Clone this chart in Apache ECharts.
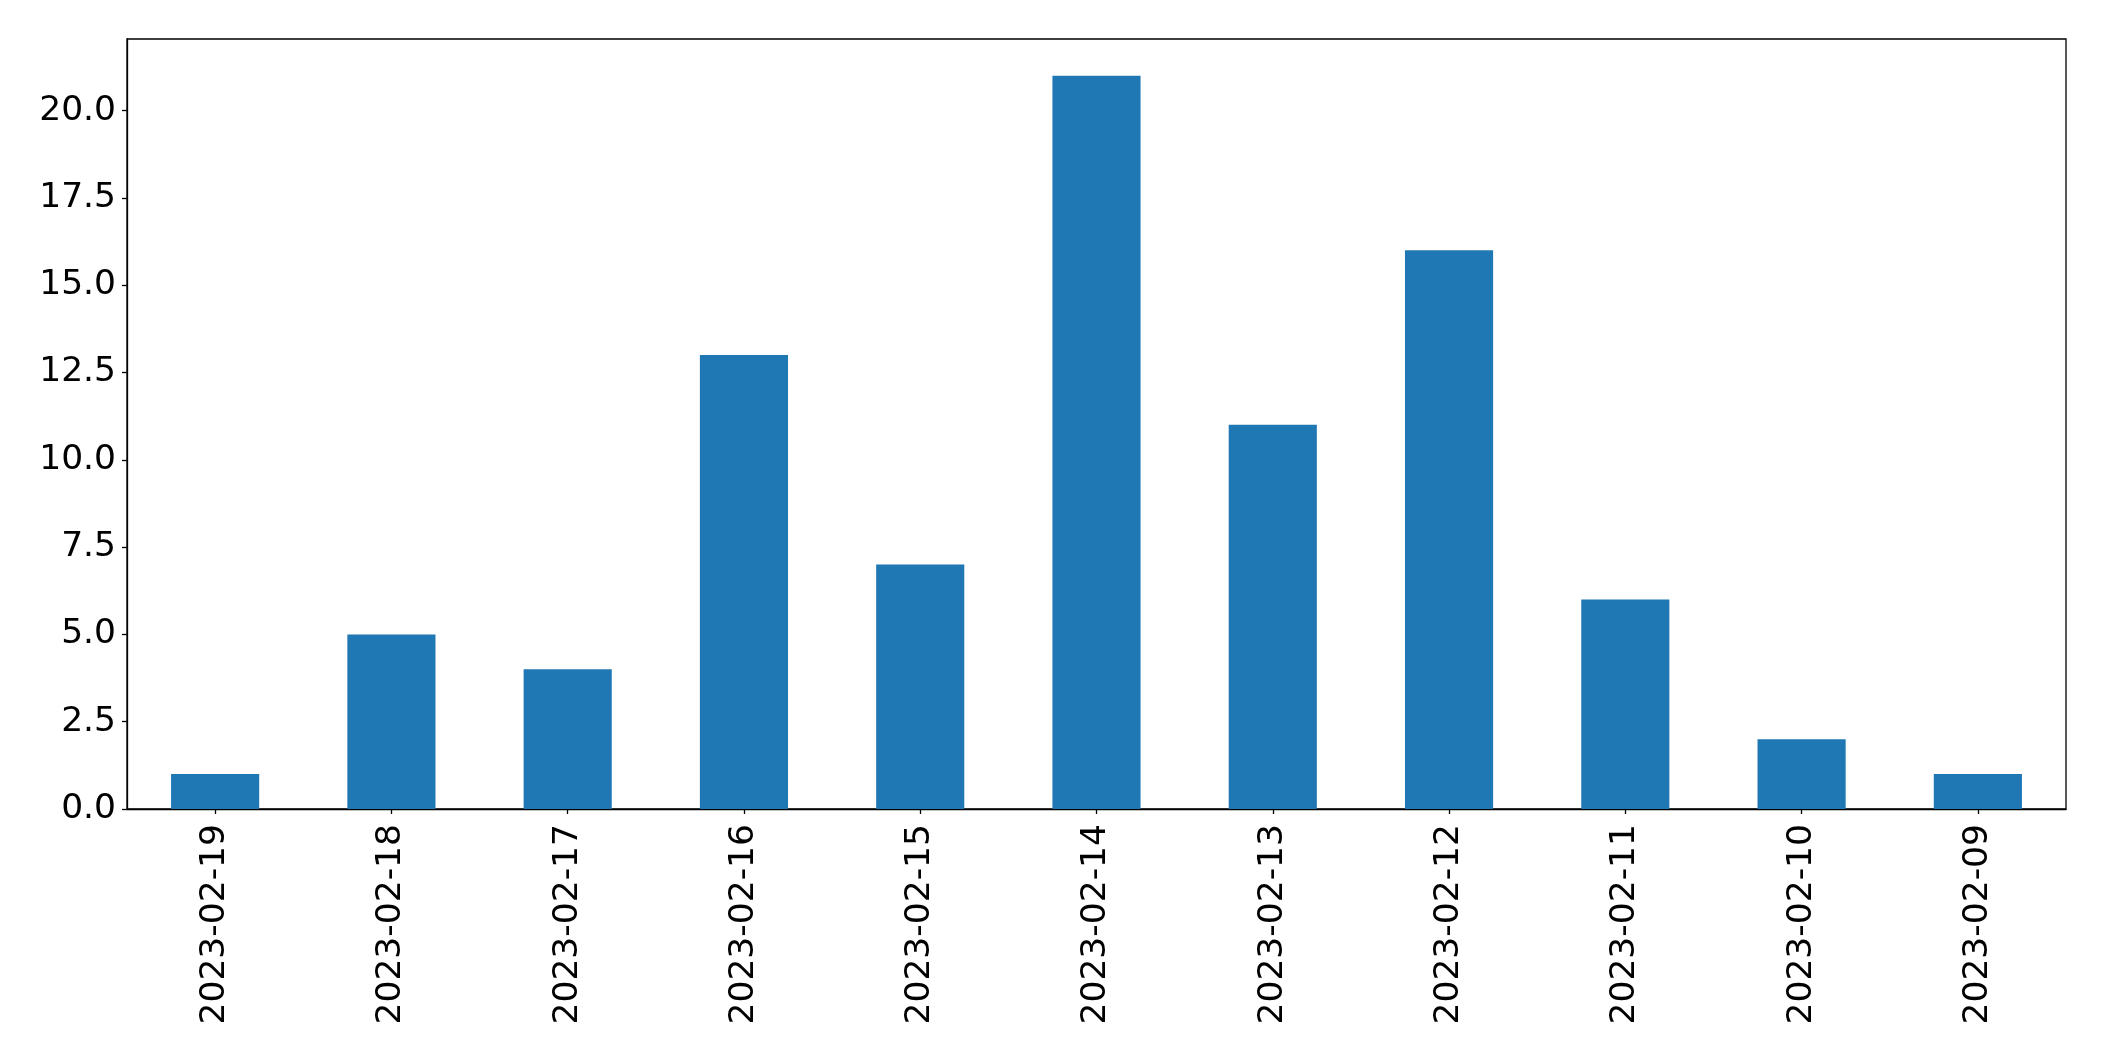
<!DOCTYPE html>
<html>
<head>
<meta charset="utf-8">
<script src="https://cdn.jsdelivr.net/npm/echarts@6/dist/echarts.min.js"></script>
<style>
html,body{margin:0;padding:0;background:#fff;}
#chart{width:2104px;height:1061px;}
</style>
</head>
<body>
<div id="chart"></div>
<script>
const categories = ['2023-02-19','2023-02-18','2023-02-17','2023-02-16','2023-02-15','2023-02-14','2023-02-13','2023-02-12','2023-02-11','2023-02-10','2023-02-09'];
const values = [1,5,4,13,7,21,11,16,6,2,1];
const yTicks = [0,2.5,5,7.5,10,12.5,15,17.5,20];

const chart = echarts.init(document.getElementById('chart'), null, {renderer:'canvas'});
const font = 'DejaVu Sans';
chart.setOption({
  animation:false,
  backgroundColor:'#ffffff',
  grid:{left:127,right:38,top:39,bottom:252,show:true,borderColor:'#000',borderWidth:1.3,backgroundColor:'transparent'},
  xAxis:{
    type:'category',
    data:categories,
    axisLine:{show:true,lineStyle:{color:'#000',width:1.3}},
    axisTick:{show:true,alignWithLabel:true,length:5,lineStyle:{color:'#000',width:1.3}},
    axisLabel:{rotate:90,fontFamily:font,fontSize:34.5,color:'#000',margin:15},
    splitLine:{show:false}
  },
  yAxis:{
    type:'value',
    min:0,max:22.05,interval:2.5,
    axisLine:{show:true,lineStyle:{color:'#000',width:1.3}},
    axisTick:{show:true,length:5,lineStyle:{color:'#000',width:1.3},customValues:yTicks},
    axisLabel:{fontFamily:font,fontSize:34.5,color:'#000',margin:11,customValues:yTicks,formatter:v=>v.toFixed(1)},
    splitLine:{show:false}
  },
  series:[{
    type:'bar',
    data:values,
    barWidth:'50%',
    itemStyle:{color:'#1f77b4'}
  }]
});
</script>
</body>
</html>
